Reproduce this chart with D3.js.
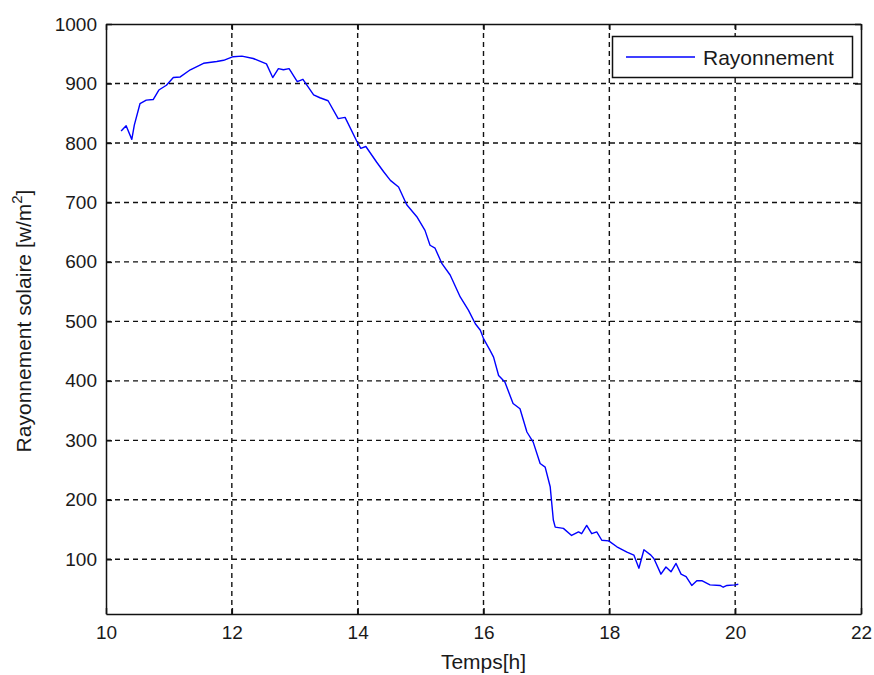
<!DOCTYPE html>
<html>
<head>
<meta charset="utf-8">
<script src="https://cdn.jsdelivr.net/npm/d3@7"></script>
<style>
  html, body { margin: 0; padding: 0; background: #fff; }
  svg { display: block; font-family: "Liberation Sans", Arial, sans-serif; }
</style>
</head>
<body>
<svg id="chart" width="874" height="675"></svg>
<script>
// Solar irradiance measured over the afternoon
const hours = [
  10.24, 10.32, 10.41, 10.45, 10.54, 10.64, 10.75, 10.84, 10.96, 11.07,
  11.18, 11.34, 11.55, 11.76, 11.87, 12.02, 12.16, 12.34, 12.55, 12.65,
  12.74, 12.82, 12.91, 13.04, 13.13, 13.30, 13.40, 13.53, 13.69, 13.80,
  13.99, 14.05, 14.13, 14.30, 14.41, 14.52, 14.65, 14.78, 14.94, 15.07,
  15.15, 15.23, 15.34, 15.47, 15.63, 15.76, 15.87, 15.95, 16.00, 16.10,
  16.16, 16.24, 16.34, 16.47, 16.58, 16.69, 16.79, 16.90, 16.98, 17.06,
  17.11, 17.14, 17.27, 17.40, 17.51, 17.56, 17.64, 17.72, 17.80, 17.88,
  17.99, 18.12, 18.28, 18.39, 18.47, 18.55, 18.66, 18.71, 18.82, 18.90,
  18.98, 19.06, 19.14, 19.22, 19.31, 19.39, 19.47, 19.60, 19.76, 19.81,
  19.87, 20.00, 20.05
];
const irradiance = [
  820, 829, 806, 830, 866, 872, 873, 889, 897, 910,
  911, 923, 934, 937, 939, 945, 946, 942, 933, 910,
  925, 923, 925, 903, 907, 881, 876, 871, 841, 843,
  802, 791, 794, 768, 752, 737, 726, 696, 676, 653,
  628, 623, 597, 578, 541, 519, 496, 485, 471, 452,
  440, 409, 398, 362, 353, 314, 297, 261, 255, 222,
  166, 154, 152, 140, 146, 143, 157, 143, 146, 132,
  131, 121, 112, 107, 85, 116, 107, 101, 75, 87,
  79, 93, 75, 71, 56, 64, 64, 57, 56, 53,
  56, 57, 58
];
const xTicks = [10, 12, 14, 16, 18, 20, 22];
const yTicks = [100, 200, 300, 400, 500, 600, 700, 800, 900, 1000];
const seriesName = "Rayonnement";

const svg = d3.select("#chart");
const L = 106, R = 861, T = 24, B = 614;

const x = d3.scaleLinear().domain([10, 22]).range([L, R]);
const y = d3.scaleLinear().domain([8, 1000]).range([B, T]);

// Dashed grid
const grid = svg.append("g").attr("stroke", "#111").attr("stroke-width", 1.4)
  .attr("stroke-dasharray", "5,4");
grid.selectAll("line.v").data(xTicks.slice(1, -1)).join("line")
  .attr("class", "v")
  .attr("x1", d => x(d)).attr("x2", d => x(d))
  .attr("y1", T).attr("y2", B);
grid.selectAll("line.h").data(yTicks.slice(0, -1)).join("line")
  .attr("class", "h")
  .attr("x1", L).attr("x2", R)
  .attr("y1", d => y(d)).attr("y2", d => y(d));

// Data line
const line = d3.line().x((d, i) => x(hours[i])).y(d => y(d));
svg.append("path").datum(irradiance)
  .attr("fill", "none").attr("stroke", "#0000ff").attr("stroke-width", 1.4)
  .attr("stroke-linejoin", "round")
  .attr("d", line);

// Axes (ticks pointing inward, mirrored on top and right)
const tickLen = 6;
const fmt = d3.format("d");
const axB = svg.append("g").attr("transform", `translate(0,${B})`)
  .call(d3.axisBottom(x).tickValues(xTicks).tickFormat(fmt).tickSizeInner(-tickLen).tickSizeOuter(0).tickPadding(12));
const axT = svg.append("g").attr("transform", `translate(0,${T})`)
  .call(d3.axisTop(x).tickValues(xTicks).tickSizeInner(-tickLen).tickSizeOuter(0).tickFormat(""));
const axL = svg.append("g").attr("transform", `translate(${L},0)`)
  .call(d3.axisLeft(y).tickValues(yTicks).tickFormat(fmt).tickSizeInner(-tickLen).tickSizeOuter(0).tickPadding(9));
const axR = svg.append("g").attr("transform", `translate(${R},0)`)
  .call(d3.axisRight(y).tickValues(yTicks).tickSizeInner(-tickLen).tickSizeOuter(0).tickFormat(""));

[axB, axT, axL, axR].forEach(g => {
  g.select(".domain").attr("stroke", "#111").attr("stroke-width", 1.5);
  g.selectAll(".tick line").attr("stroke", "#111").attr("stroke-width", 1.5);
  g.selectAll(".tick text").attr("fill", "#1a1a1a").attr("font-size", 19)
    .attr("font-family", "'Liberation Sans', Arial, sans-serif");
});

// Axis titles
svg.append("text").attr("x", (L + R) / 2).attr("y", 669)
  .attr("text-anchor", "middle").attr("font-size", 21).attr("fill", "#1a1a1a")
  .text("Temps[h]");

const yl = svg.append("text")
  .attr("transform", `translate(31,${(T + B) / 2 + 2}) rotate(-90)`)
  .attr("text-anchor", "middle").attr("font-size", 21).attr("fill", "#1a1a1a");
yl.append("tspan").text("Rayonnement solaire [w/m");
yl.append("tspan").attr("font-size", 15).attr("dy", -9).text("2");
yl.append("tspan").attr("dy", 9).text("]");

// Legend
const lg = svg.append("g");
lg.append("rect").attr("x", 612.5).attr("y", 36.5).attr("width", 240).attr("height", 41)
  .attr("fill", "#fff").attr("stroke", "#111").attr("stroke-width", 1.5);
lg.append("line").attr("x1", 626).attr("x2", 695).attr("y1", 57).attr("y2", 57)
  .attr("stroke", "#0000ff").attr("stroke-width", 1.4);
lg.append("text").attr("x", 703).attr("y", 64.5).attr("font-size", 21).attr("fill", "#1a1a1a")
  .text(seriesName);
</script>
</body>
</html>
